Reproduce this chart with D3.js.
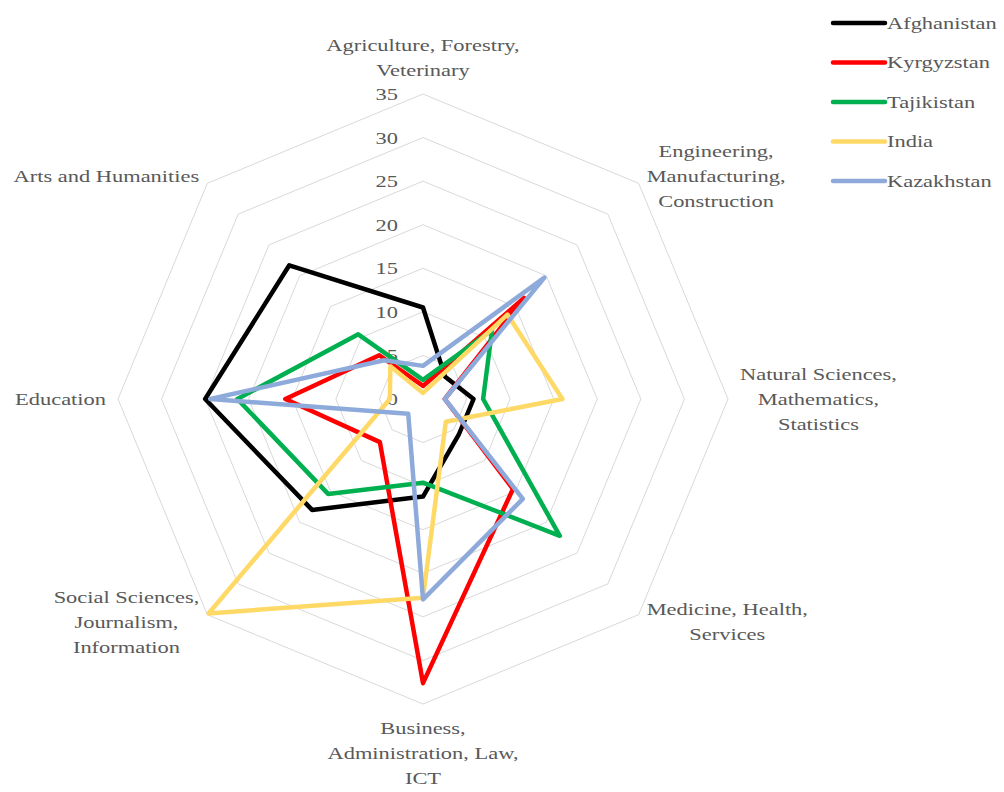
<!DOCTYPE html>
<html>
<head>
<meta charset="utf-8">
<script src="https://cdn.jsdelivr.net/npm/d3@7"></script>
<style>
  body { margin: 0; background: #fff; }
  text { font-family: "Liberation Serif", "Times New Roman", serif; fill: #595959; }
</style>
</head>
<body>
<div id="chart"></div>
<script>
// axes, clockwise from the top
const categories = [
  ["Agriculture, Forestry,", "Veterinary"],
  ["Engineering,", "Manufacturing,", "Construction"],
  ["Natural Sciences,", "Mathematics,", "Statistics"],
  ["Medicine, Health,", "Services"],
  ["Business,", "Administration, Law,", "ICT"],
  ["Social Sciences,", "Journalism,", "Information"],
  ["Education"],
  ["Arts and Humanities"]
];
const countries = ["Afghanistan", "Kyrgyzstan", "Tajikistan", "India", "Kazakhstan"];
const afghanistan = [10.5, 3.6, 5.8, 5.8, 11.2, 18.0, 25.0, 21.7];
const kyrgyzstan  = [1.5, 16.4, 2.5, 14.6, 32.6, 7.0, 15.8, 7.1];
const tajikistan  = [2.2, 11.2, 6.9, 22.2, 9.6, 15.4, 21.3, 10.5];
const india       = [0.7, 13.7, 16.0, 3.7, 22.8, 34.8, 3.8, 5.3];
const kazakhstan  = [3.8, 19.7, 2.5, 16.2, 23.0, 2.4, 24.4, 6.3];
const seriesValues = [afghanistan, kyrgyzstan, tajikistan, india, kazakhstan];
const seriesColors = ["#000000", "#ff0000", "#00b050", "#ffd966", "#8eaadb"];
const ticks = [0, 5, 10, 15, 20, 25, 30, 35];

const width = 1004, height = 792;
const cx = 423, cy = 399, R = 305;
const fontSize = 17, stretch = 1.32, lineH = 25;
const step = 2 * Math.PI / categories.length;

const svg = d3.select("#chart").append("svg")
  .attr("width", width)
  .attr("height", height);

const r = d3.scaleLinear().domain([0, 35]).range([0, R]);

const chart = svg.append("g")
  .attr("transform", "translate(" + cx + "," + cy + ")");

const radial = d3.lineRadial()
  .angle((d, i) => i * step)
  .radius(d => r(d))
  .curve(d3.curveLinearClosed);

// grid rings (octagons)
chart.selectAll(".ring")
  .data(ticks.filter(t => t > 0))
  .enter().append("path")
    .attr("class", "ring")
    .attr("d", t => radial(categories.map(() => t)))
    .attr("fill", "none")
    .attr("stroke", "#d9d9d9")
    .attr("stroke-width", 1);

// stretched text helper, the source has wide glyphs
function stretchedText(sel, x, y, anchor) {
  return sel.append("text")
    .attr("transform", "translate(" + x + "," + y + ") scale(" + stretch + ",1)")
    .attr("text-anchor", anchor)
    .attr("dy", "0.35em")
    .style("font-size", fontSize + "px");
}

// tick labels
ticks.forEach(t => {
  stretchedText(chart, -25, -r(t), "end").text(t);
});

// series
chart.selectAll(".series")
  .data(seriesValues)
  .enter().append("path")
    .attr("class", "series")
    .attr("d", d => radial(d))
    .attr("fill", "none")
    .attr("stroke", (d, i) => seriesColors[i])
    .attr("stroke-width", 4.5)
    .attr("stroke-linejoin", "round");

// axis labels
categories.forEach((lines, i) => {
  const a = i * step;
  const sx = Math.sin(a), cy0 = Math.cos(a);
  const vx = R * sx, vy = -R * cy0;
  const g = chart.append("g");
  lines.forEach((ln, k) => {
    stretchedText(g, 0, (k - (lines.length - 1) / 2) * lineH, "middle").text(ln);
  });
  const w = g.node().getBBox().width;
  const n = lines.length;
  let gx = vx, gy = vy;
  if (Math.abs(sx) < 0.1) {
    gy = cy0 > 0 ? vy - 24 - (n - 1) * lineH / 2 : vy + 24 + (n - 1) * lineH / 2;
  } else {
    const gap = Math.abs(cy0) < 0.1 ? 12 : 8;
    gx = vx + Math.sign(sx) * (gap + w / 2);
    gy = Math.abs(cy0) < 0.1 ? vy : vy - 7 * Math.sign(cy0);
  }
  g.attr("transform", "translate(" + gx + "," + gy + ")");
});

// legend
const legend = svg.append("g")
  .attr("transform", "translate(833,23)");
countries.forEach((c, i) => {
  const row = legend.append("g").attr("transform", "translate(0," + (i * 39.5) + ")");
  row.append("line")
    .attr("x1", 0).attr("x2", 52)
    .attr("stroke", seriesColors[i])
    .attr("stroke-width", 4.5)
    .attr("stroke-linecap", "round");
  stretchedText(row, 54, 0, "start").text(c);
});
</script>
</body>
</html>
